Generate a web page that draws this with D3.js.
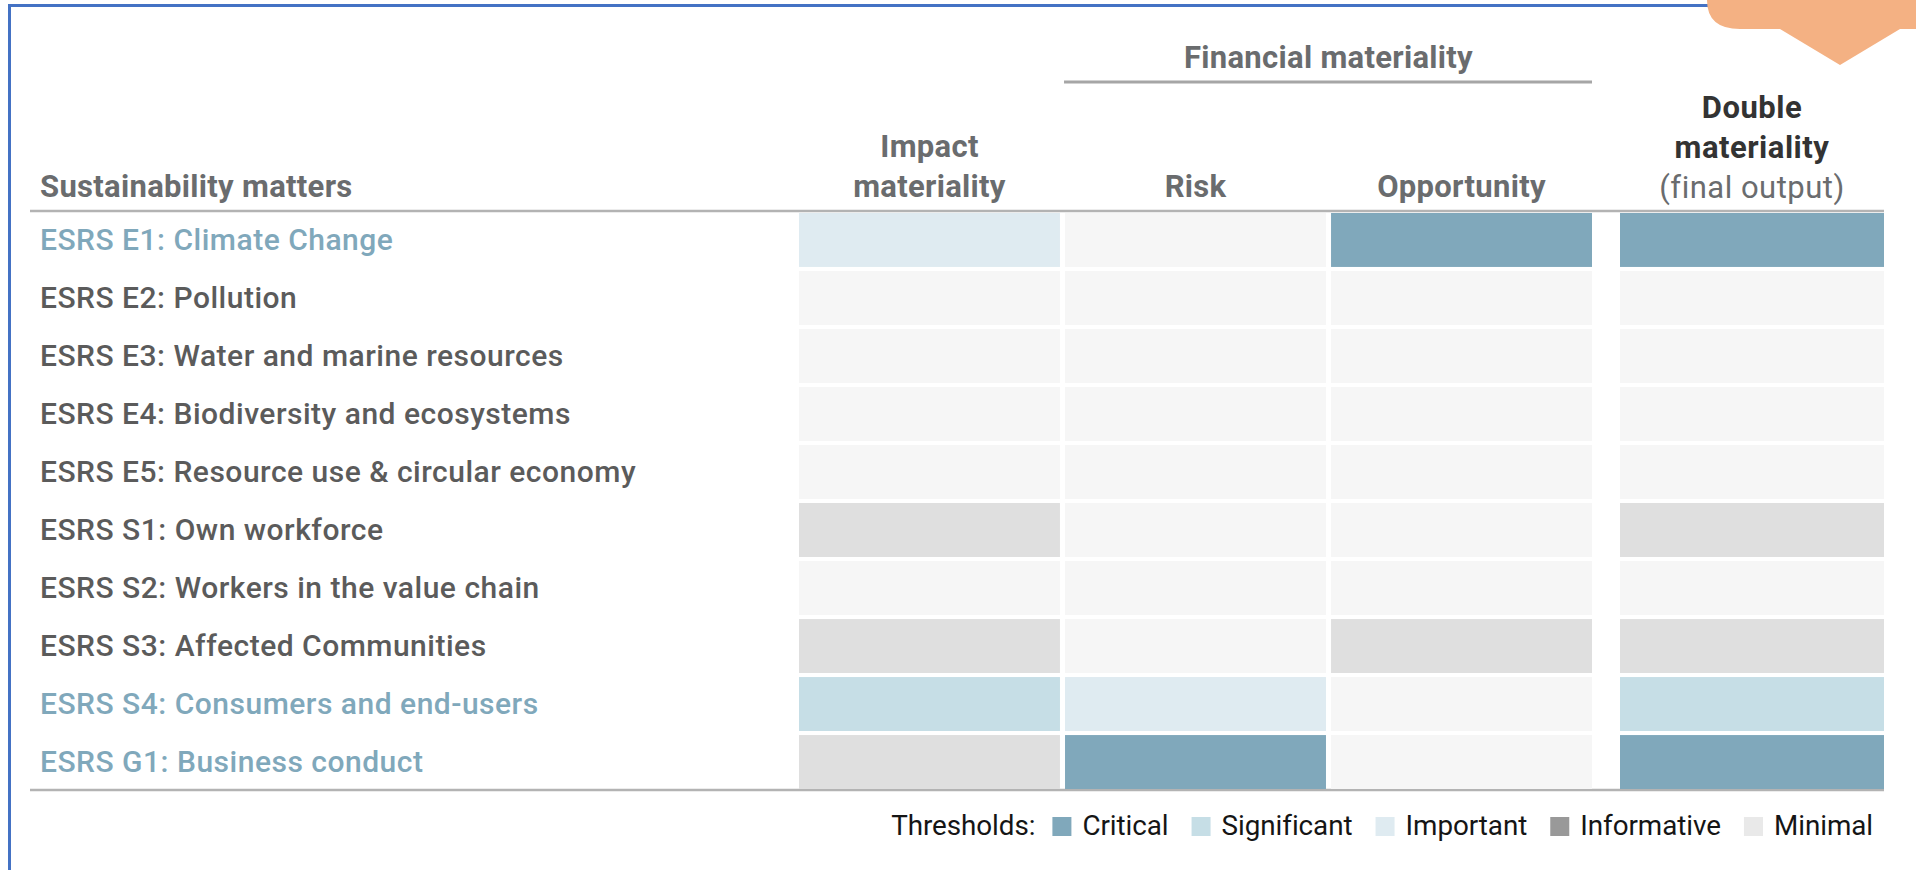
<!DOCTYPE html>
<html>
<head>
<meta charset="utf-8">
<script src="https://cdn.jsdelivr.net/npm/d3@7"></script>
<style>
    html, body { margin: 0; padding: 0; background: #fff; }
    svg { display: block; }
    text { font-family: Roboto, "Noto Sans", sans-serif; }
</style>
</head>
<body>
<div id="chart"></div>
<script>
// Data
const matters = [
    'ESRS E1: Climate Change',
    'ESRS E2: Pollution',
    'ESRS E3: Water and marine resources',
    'ESRS E4: Biodiversity and ecosystems',
    'ESRS E5: Resource use & circular economy',
    'ESRS S1: Own workforce',
    'ESRS S2: Workers in the value chain',
    'ESRS S3: Affected Communities',
    'ESRS S4: Consumers and end-users',
    'ESRS G1: Business conduct',
];
const assessmentColumns = ['Impact', 'Risk', 'Opportunity'];
const impactLevels      = ['important', 'none', 'none', 'none', 'none', 'minimal', 'none', 'minimal', 'significant', 'minimal'];
const riskLevels        = ['none', 'none', 'none', 'none', 'none', 'none', 'none', 'none', 'important', 'critical'];
const opportunityLevels = ['critical', 'none', 'none', 'none', 'none', 'none', 'none', 'minimal', 'none', 'none'];
const doubleLevels      = ['critical', 'none', 'none', 'none', 'none', 'minimal', 'none', 'minimal', 'significant', 'critical'];
const thresholds = ['Critical', 'Significant', 'Important', 'Informative', 'Minimal'];

//Helpers
const translate = (x, y) => `translate(${x}, ${y})`;

const width = 1916;
const height = 870;
const tableTop = 213;
const tableBottom = 789;
const lineLeft = 30;
const lineRight = 1884;

const cellColor = {
    critical: '#80a8bb',
    significant: '#c6dee6',
    important: '#dfebf1',
    minimal: '#dfdfdf',
    none: '#f6f6f6',
};
const legendColor = {
    Critical: '#80a8bb',
    Significant: '#c6dee6',
    Important: '#dfebf1',
    Informative: '#999999',
    Minimal: '#e9e9e9',
};
const grayText = '#6a6c6e';
const labelText = '#5b5b5b';
const highlightText = '#80a8bb';

const svg = d3.select('#chart').append('svg')
    .attr('width', width)
    .attr('height', height);

//Frame + callout
svg.append('rect')
    .attr('x', 9.5).attr('y', 5.5)
    .attr('width', 2000).attr('height', 1000)
    .attr('fill', 'none')
    .attr('stroke', '#4472c4')
    .attr('stroke-width', 3);
svg.append('path')
    .attr('d', 'M1707,-40 L1707,0 Q1707,29 1740,29 L1780,29 L1840,65 L1900,29 L1930,29 L1930,-40 Z')
    .attr('fill', '#f4b183');

//Scales
const rowScale = d3.scaleBand()
    .domain(matters)
    .range([tableTop, tableBottom])
    .paddingInner(0.07);

const colScale = d3.scaleBand()
    .domain(assessmentColumns)
    .range([799, 1592])
    .paddingInner(0.019);

const doubleScale = d3.scaleBand()
    .domain(['Double'])
    .range([1620, lineRight]);

//Header
const header = svg.append('g').attr('class', 'header');
const headerText = (x, y, str, opts = {}) => header.append('text')
    .attr('x', x).attr('y', y)
    .attr('text-anchor', opts.anchor || 'middle')
    .attr('font-size', opts.size || 31)
    .attr('font-weight', opts.weight || 700)
    .attr('letter-spacing', opts.spacing ?? 0.3)
    .attr('fill', opts.fill || grayText)
    .text(str);

headerText(40, 197, 'Sustainability matters', { anchor: 'start' });

const impactX = colScale('Impact') + colScale.bandwidth() / 2;
headerText(impactX, 157, 'Impact');
headerText(impactX, 197, 'materiality');
headerText(colScale('Risk') + colScale.bandwidth() / 2, 197, 'Risk');
headerText(colScale('Opportunity') + colScale.bandwidth() / 2, 197, 'Opportunity');

const finLeft = colScale('Risk');
const finRight = colScale('Opportunity') + colScale.bandwidth();
headerText((finLeft + finRight) / 2, 68, 'Financial materiality');
header.append('line')
    .attr('x1', finLeft - 1).attr('x2', finRight)
    .attr('y1', 82).attr('y2', 82)
    .attr('stroke', '#a6a6a6')
    .attr('stroke-width', 3);

const doubleX = doubleScale('Double') + doubleScale.bandwidth() / 2;
headerText(doubleX, 118, 'Double', { fill: '#333333', spacing: 0.5 });
headerText(doubleX, 158, 'materiality', { fill: '#333333', spacing: 0.5 });
headerText(doubleX, 198, '(final output)', { weight: 400, spacing: 0.5 });

//Rules
[211, 790].forEach(y => {
    svg.append('line')
        .attr('x1', lineLeft).attr('x2', lineRight)
        .attr('y1', y).attr('y2', y)
        .attr('stroke', '#b3b3b3')
        .attr('stroke-width', 2.5);
});

//Cells
const cells = [];
matters.forEach((m, i) => {
    cells.push({ matter: m, x: colScale('Impact'), w: colScale.bandwidth(), level: impactLevels[i] });
    cells.push({ matter: m, x: colScale('Risk'), w: colScale.bandwidth(), level: riskLevels[i] });
    cells.push({ matter: m, x: colScale('Opportunity'), w: colScale.bandwidth(), level: opportunityLevels[i] });
    cells.push({ matter: m, x: doubleScale('Double'), w: doubleScale.bandwidth(), level: doubleLevels[i] });
});

svg.append('g').attr('class', 'cells')
    .selectAll('rect')
    .data(cells)
    .join('rect')
    .attr('x', d => d.x)
    .attr('y', d => rowScale(d.matter))
    .attr('width', d => d.w)
    .attr('height', rowScale.bandwidth())
    .attr('fill', d => cellColor[d.level]);

//Row labels (material matters are highlighted)
svg.append('g').attr('class', 'row-labels')
    .selectAll('text')
    .data(matters)
    .join('text')
    .attr('x', 40)
    .attr('y', d => rowScale(d) + rowScale.bandwidth() / 2)
    .attr('dy', '0.33em')
    .attr('font-size', 30)
    .attr('font-weight', 500)
    .attr('letter-spacing', 0.5)
    .attr('fill', (d, i) => ['critical', 'significant'].includes(doubleLevels[i]) ? highlightText : labelText)
    .text(d => d);

//Legend
const legend = svg.append('g').attr('class', 'legend');
const legendY = 835;
let cursor = 0;
const title = legend.append('text')
    .attr('x', cursor).attr('y', legendY)
    .attr('font-size', 27.8)
    .attr('letter-spacing', -0.05)
    .attr('fill', '#151515')
    .text('Thresholds:');
cursor += title.node().getComputedTextLength() + 17;
thresholds.forEach((t, i) => {
    legend.append('rect')
        .attr('x', cursor).attr('y', legendY - 18)
        .attr('width', 19).attr('height', 19)
        .attr('fill', legendColor[t]);
    cursor += 19 + 11;
    const txt = legend.append('text')
        .attr('x', cursor).attr('y', legendY)
        .attr('font-size', 27.8)
        .attr('letter-spacing', -0.05)
        .attr('fill', '#151515')
        .text(t);
    cursor += txt.node().getComputedTextLength();
    if (i < thresholds.length - 1) cursor += 23;
});
legend.attr('transform', translate(1873 - cursor, 0));
</script>
</body>
</html>
